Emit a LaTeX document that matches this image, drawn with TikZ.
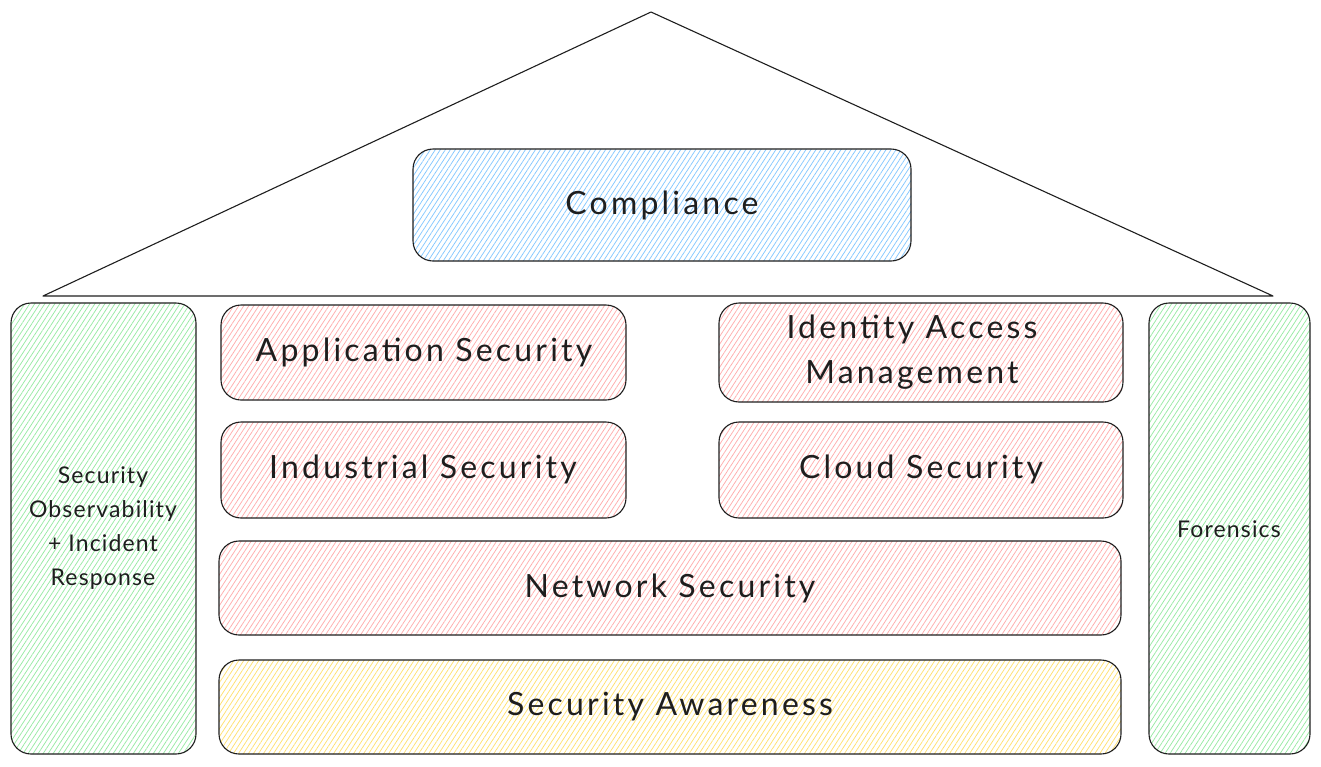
\documentclass[tikz,border=0pt]{standalone}
\usepackage{fontspec}
\setmainfont{Lato}
\newfontfamily\widefont[LetterSpace=10]{Lato}
\newfontfamily\sidefont[LetterSpace=5]{Lato}
\usetikzlibrary{patterns.meta}
\definecolor{hred}{HTML}{FFADAD}
\definecolor{hblue}{HTML}{85C8FF}
\definecolor{hgreen}{HTML}{98EAA4}
\definecolor{hyellow}{HTML}{FFE070}
\definecolor{ink}{HTML}{1E1E1E}
\tikzset{
  blockbox/.style={draw=ink, line width=1.1pt, rounded corners=20pt,
    pattern={Lines[angle=57,distance=4.2pt,line width=0.75pt]}},
  redbox/.style={blockbox, pattern color=hred},
  bluebox/.style={blockbox, pattern color=hblue},
  greenbox/.style={blockbox, pattern color=hgreen},
  yellowbox/.style={blockbox, pattern color=hyellow},
  biglabel/.style={text=ink, font=\widefont\fontsize{32}{45}\selectfont, align=center},
  sidelabel/.style={text=ink, font=\sidefont\fontsize{23}{34}\selectfont, align=center},
}
\begin{document}
\begin{tikzpicture}[x=1pt,y=-1pt]
\useasboundingbox (0,0) rectangle (1321,766);
% roof
\coordinate (apex) at (651,12);
\coordinate (rl) at (43,296);
\coordinate (rr) at (1273,296);
\draw[ink, line width=1.1pt, line join=round] (rl) -- (apex) -- (rr) -- cycle;
% boxes
\draw[bluebox] (413,149) rectangle (911,261);
\node[biglabel] (comp) at (662,205) {Compliance};
\draw[greenbox] (11,303) rectangle (196,754);
\node[sidelabel] (obs) at (103,528) {Security\\Observability\\+ Incident\\Response};
\draw[greenbox] (1149,303) rectangle (1310,754);
\node[sidelabel] (for) at (1229,529) {Forensics};
\draw[redbox] (221,305) rectangle (626,400);
\node[biglabel] (app) at (424,352) {Application Security};
\draw[redbox] (719,303) rectangle (1123,402);
\node[biglabel] (iam) at (912,352) {Identity Access\\Management};
\draw[redbox] (221,422) rectangle (626,518);
\node[biglabel] (ind) at (423,469) {Industrial Security};
\draw[redbox] (719,422) rectangle (1123,518);
\node[biglabel] (cloud) at (921,469) {Cloud Security};
\draw[redbox] (219,541) rectangle (1121,635);
\node[biglabel] (net) at (670,588) {Network Security};
\draw[yellowbox] (219,660) rectangle (1121,754);
\node[biglabel] (aw) at (670,707) {Security Awareness};
\end{tikzpicture}
\end{document}
